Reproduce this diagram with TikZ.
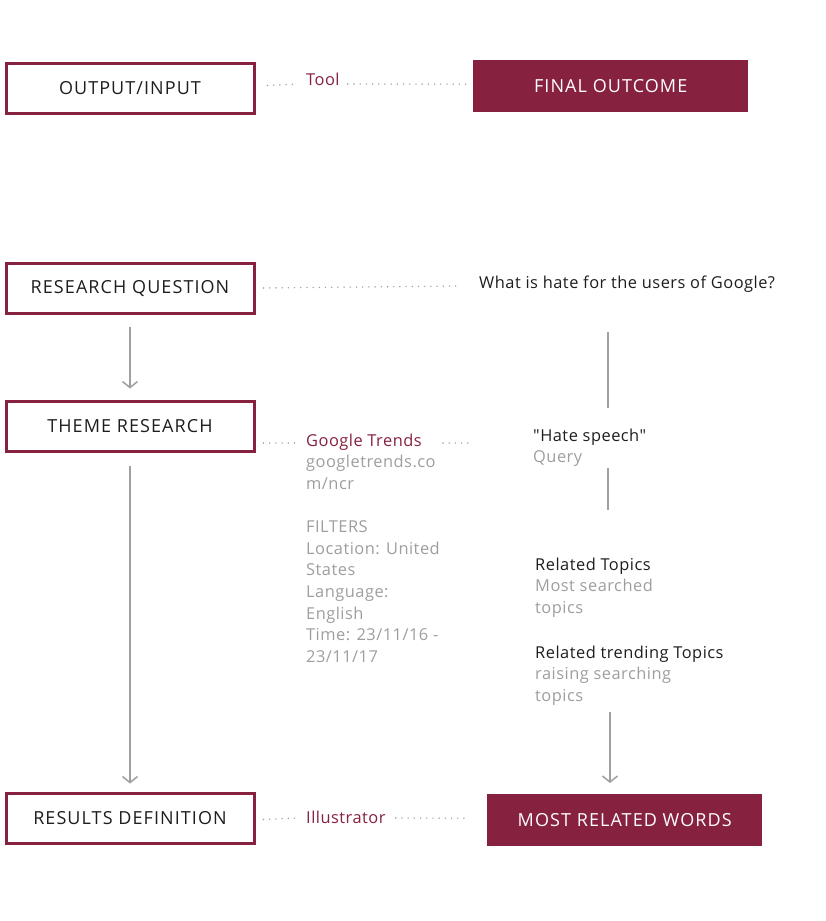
\documentclass[tikz,border=0pt]{standalone}
\usepackage{fontspec}
\setmainfont{Open Sans}
\newfontfamily\boxfont[LetterSpace=6]{Open Sans}
\newfontfamily\bodyfont[LetterSpace=3]{Open Sans}
\usetikzlibrary{arrows.meta,calc}
\definecolor{maroon}{HTML}{86213F}
\definecolor{ink}{HTML}{1E1E1E}
\definecolor{soft}{HTML}{9E9E9E}
\definecolor{wire}{HTML}{A0A0A0}
\newcommand{\firststrut}{\rule{0pt}{13pt}}
\begin{document}
\begin{tikzpicture}[x=1pt,y=-1pt,
  outbox/.style={draw=maroon,line width=3pt,fill=white,minimum width=248pt,minimum height=50pt,inner sep=0pt,font=\boxfont\fontsize{18}{20}\selectfont,text=ink,anchor=north west},
  fillbox/.style={fill=maroon,minimum width=275pt,minimum height=52pt,inner sep=0pt,font=\boxfont\fontsize{18}{20}\selectfont,text=white,anchor=north west},
  lbl/.style={anchor=base west,inner sep=0pt,font=\bodyfont\fontsize{16.4}{21.6}\selectfont,align=left},
  blk/.style={anchor=north west,inner sep=0pt,font=\bodyfont\fontsize{16.4}{21.6}\selectfont,align=left},
  tooltxt/.style={lbl,text=maroon},
  darktxt/.style={lbl,text=ink},
  dotline/.style={draw=wire,line width=1.6pt,line cap=round,dash pattern=on 0pt off 6.2pt},
  flow/.style={draw=wire,line width=1.5pt,-{Straight Barb[length=6pt,width=15pt,line width=1.5pt]}},
  plain/.style={draw=wire,line width=1.8pt}]
\useasboundingbox (0,0) rectangle (825,921);
% boxes
\node[outbox] (oi) at (4.5,61.5) {OUTPUT/INPUT};
\node[fillbox] (fo) at (473,60) {FINAL OUTCOME};
\node[outbox] (rq) at (4.5,261.5) {RESEARCH QUESTION};
\node[outbox] (tr) at (4.5,399.5) {THEME RESEARCH};
\node[outbox] (rd) at (4.5,791.5) {RESULTS DEFINITION};
\node[fillbox] (mrw) at (487,794) {MOST RELATED WORDS};
% labels
\node[tooltxt] (tool) at (306,85) {Tool};
\node[darktxt] (rqt) at (479,288) {What is hate for the users of Google?};
\node[blk,text=soft] (gt) at (306,433) {\firststrut\textcolor{maroon}{Google Trends}\\googletrends.co\\m/ncr\\[21.6pt]FILTERS\\Location: United\\States\\Language:\\English\\Time: 23/11/16 -\\23/11/17};
\node[blk,text=ink] (hs) at (533,428) {\firststrut\symbol{34}Hate speech\symbol{34}\\\textcolor{soft}{Query}};
\node[blk,text=ink] (rt) at (535,557) {\firststrut Related Topics\\\textcolor{soft}{Most searched}\\\textcolor{soft}{topics}};
\node[blk,text=ink] (rtt) at (535,645) {\firststrut Related trending Topics\\\textcolor{soft}{raising searching}\\\textcolor{soft}{topics}};
\node[tooltxt] (ill) at (306,823) {Illustrator};
% dotted connectors
\draw[dotline] ($(oi.east)+(12,-2.5)$) -- ($(tool.base west)+(-8,-1)$);
\draw[dotline] ($(tool.base east)+(8,-1)$) -- ($(fo.west)+(-3,-2)$);
\draw[dotline] ($(rq.east)+(8,0)$) -- ($(rqt.base west)+(-20,-2)$);
\coordinate (gte) at (443,443);
\coordinate (gtf) at (470,443);
\draw[dotline] ($(tr.east)+(8,17)$) -- (300,443);
\draw[dotline] (gte) -- (gtf);
\draw[dotline] ($(rd.east)+(8,1.5)$) -- ($(ill.base west)+(-8,-5)$);
\draw[dotline] ($(ill.base east)+(10,-5)$) -- ($(mrw.west)+(-22,-2)$);
% vertical connectors
\coordinate (v1a) at (608,332);
\coordinate (v1b) at (608,408);
\coordinate (v2a) at (608,468);
\coordinate (v2b) at (608,510);
\coordinate (v3a) at (610,712);
\draw[plain] (v1a) -- (v1b);
\draw[plain] (v2a) -- (v2b);
\draw[flow] (v3a) -- ($(mrw.north -| v3a)+(0,-11)$);
\draw[flow] ($(rq.south)+(0,12)$) -- ($(tr.north)+(0,-11)$);
\draw[flow] ($(tr.south)+(0,13)$) -- ($(rd.north)+(0,-8)$);
\end{tikzpicture}
\end{document}
